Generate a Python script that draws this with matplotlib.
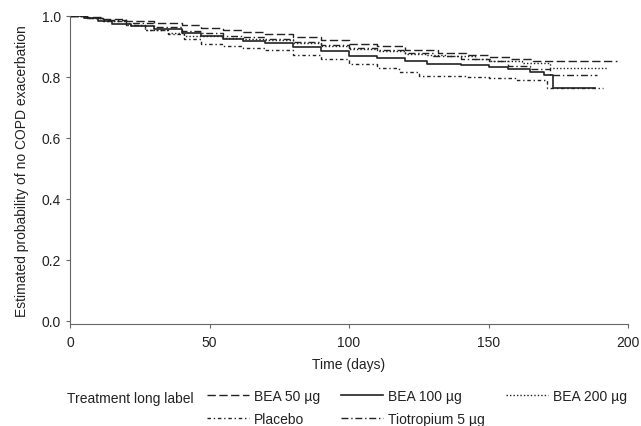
import matplotlib
matplotlib.use("Agg")
import matplotlib.pyplot as plt

plt.rcParams['font.family'] = ['Liberation Sans', 'DejaVu Sans']

# Kaplan-Meier style step data (days, survival)
days_50 = [0, 5, 12, 20, 30, 40, 47, 55, 62, 70, 80, 90, 100, 110, 120, 132, 142, 150, 158, 166, 196]
surv_50 = [1.0, 0.997, 0.99, 0.985, 0.978, 0.97, 0.962, 0.955, 0.948, 0.94, 0.93, 0.92, 0.908, 0.9, 0.89,
           0.88, 0.872, 0.866, 0.858, 0.852, 0.852]

days_100 = [0, 5, 10, 15, 22, 30, 40, 47, 55, 62, 70, 80, 90, 100, 110, 120, 128, 140, 150, 157, 165,
            170, 173, 188]
surv_100 = [1.0, 0.993, 0.985, 0.975, 0.968, 0.958, 0.945, 0.933, 0.925, 0.918, 0.91, 0.898, 0.885, 0.87,
            0.862, 0.852, 0.843, 0.838, 0.833, 0.826, 0.815, 0.807, 0.764, 0.764]

days_200 = [0, 6, 12, 20, 27, 35, 41, 47, 55, 62, 70, 80, 90, 100, 110, 120, 128, 135, 145, 151, 162,
            172, 193]
surv_200 = [1.0, 0.995, 0.985, 0.972, 0.955, 0.943, 0.935, 0.933, 0.928, 0.926, 0.922, 0.912, 0.902,
            0.892, 0.885, 0.876, 0.872, 0.869, 0.86, 0.852, 0.846, 0.83, 0.83]

days_pl = [0, 6, 12, 20, 27, 35, 41, 47, 55, 62, 70, 80, 90, 100, 110, 118, 125, 142, 150, 160, 171, 191]
surv_pl = [1.0, 0.993, 0.982, 0.97, 0.955, 0.94, 0.925, 0.908, 0.9, 0.895, 0.889, 0.873, 0.858, 0.843,
           0.83, 0.815, 0.803, 0.8, 0.798, 0.79, 0.764, 0.764]

days_ti = [0, 6, 12, 20, 30, 40, 47, 55, 62, 70, 80, 90, 100, 110, 120, 130, 140, 150, 157, 165, 172, 189]
surv_ti = [1.0, 0.995, 0.988, 0.978, 0.965, 0.952, 0.943, 0.935, 0.93, 0.925, 0.915, 0.905, 0.896,
           0.888, 0.878, 0.868, 0.86, 0.852, 0.836, 0.826, 0.807, 0.807]

labels = ['BEA 50 \u00b5g', 'BEA 100 \u00b5g', 'BEA 200 \u00b5g', 'Placebo', 'Tiotropium 5 \u00b5g']

fig = plt.figure(figsize=(6.41, 4.27), dpi=100)
ax = fig.add_axes([70 / 641, 1 - 325 / 427, (628 - 70) / 641, (325 - 17) / 427])

col = '#222222'
l50, = ax.step(days_50, surv_50, where='post', color=col, lw=1.0, dashes=(6, 2.5))
l100, = ax.step(days_100, surv_100, where='post', color=col, lw=1.2)
l200, = ax.step(days_200, surv_200, where='post', color=col, lw=1.0, dashes=(1, 1.5))
lpl, = ax.step(days_pl, surv_pl, where='post', color=col, lw=1.0, dashes=(2.5, 2, 1, 2))
lti, = ax.step(days_ti, surv_ti, where='post', color=col, lw=1.0, dashes=(5, 2, 1, 2))

ax.set_xlim(0, 200)
ax.set_ylim(-0.01, 1.0)
ax.set_xticks([0, 50, 100, 150, 200])
ax.set_yticks([0.0, 0.2, 0.4, 0.6, 0.8, 1.0])
ax.set_yticklabels(['0.0', '0.2', '0.4', '0.6', '0.8', '1.0'])
for s in ['top', 'right']:
    ax.spines[s].set_visible(False)
for s in ['left', 'bottom']:
    ax.spines[s].set_color('#666666')
    ax.spines[s].set_linewidth(0.8)
ax.tick_params(direction='out', length=3, width=0.8, color='#666666', labelsize=10, labelcolor='#222222')
ax.tick_params(axis='x', pad=5)

ax.set_xlabel('Time (days)', fontsize=10, color='#222222', labelpad=6)
ax.set_ylabel('Estimated probability of no COPD exacerbation', fontsize=10, color='#222222', labelpad=9)

fig.text(67 / 641, 1 - 399 / 427, 'Treatment long label', fontsize=10, color='#222222', va='center')

# order so rows read BEA 50 / BEA 100 / BEA 200, then Placebo / Tiotropium
handles = [l50, lpl, l100, lti, l200]
hl = [labels[0], labels[3], labels[1], labels[4], labels[2]]
fig.legend(handles, hl, ncol=3, loc='upper left', bbox_to_anchor=(207 / 641, 1 - 390 / 427),
           frameon=False, fontsize=10, handlelength=3.0, handletextpad=0.4, columnspacing=1.5,
           labelspacing=0.65, borderpad=0, borderaxespad=0, labelcolor='#222222')

fig.savefig('out.png', dpi=100)
